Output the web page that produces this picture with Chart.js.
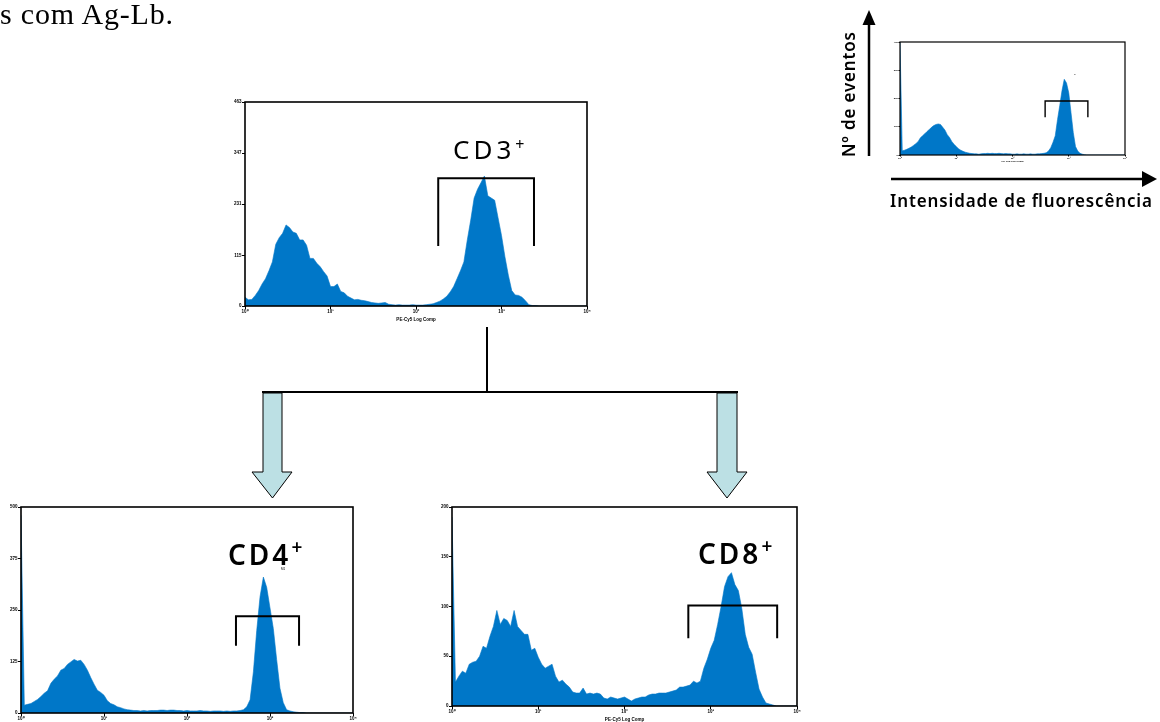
<!DOCTYPE html>
<html>
<head>
<meta charset="utf-8">
<script src="https://cdn.jsdelivr.net/npm/chart.js@4.4.1/dist/chart.umd.min.js"></script>
<style>
  html, body { margin: 0; padding: 0; background: #fff; }
  body { position: relative; width: 1160px; height: 722px; overflow: hidden; }
  canvas { position: absolute; }
  svg { position: absolute; left: 0; top: 0; pointer-events: none; }
</style>
</head>
<body>
<canvas id="cd3" width="368" height="226" style="left:225px;top:96px"></canvas>
<canvas id="key" width="243" height="125" style="left:886px;top:38px"></canvas>
<canvas id="cd4" width="358" height="228" style="left:1px;top:501px"></canvas>
<canvas id="cd8" width="371" height="221" style="left:432px;top:501px"></canvas>

<svg width="1160" height="722" viewBox="0 0 1160 722">
  <text x="0" y="24" font-family="Liberation Serif" font-size="30" textLength="173" lengthAdjust="spacing" fill="#000">s com Ag-Lb.</text>

  <!-- gate labels -->
  <text x="453" y="159" font-family="Noto Sans" font-size="26" letter-spacing="4" fill="#000">CD3<tspan font-size="16" dy="-9">+</tspan></text>
  <text x="228" y="565" font-family="Noto Sans" font-weight="600" font-size="28" letter-spacing="3" fill="#000">CD4<tspan font-size="19" dy="-11">+</tspan></text>
  <text x="698" y="564" font-family="Noto Sans" font-weight="600" font-size="28" letter-spacing="3" fill="#000">CD8<tspan font-size="19" dy="-11">+</tspan></text>
  <text x="281" y="570" font-family="Liberation Sans" font-size="3" fill="#000">M1</text>
  <text x="1074" y="76" font-family="Liberation Sans" font-size="5" fill="#000">-</text>

  <!-- tree connector -->
  <line x1="487" y1="327" x2="487" y2="393" stroke="#000" stroke-width="2"/>
  <line x1="262" y1="392" x2="738" y2="392" stroke="#000" stroke-width="2"/>
  <polygon points="263,393 282,393 282,472 292,472 272.5,498 252,472 263,472" fill="#BCE0E4" stroke="#000" stroke-width="1"/>
  <polygon points="717,393 737,393 737,472 747,472 727,498 707,472 717,472" fill="#BCE0E4" stroke="#000" stroke-width="1"/>

  <!-- key axes -->
  <line x1="869" y1="156" x2="869" y2="22" stroke="#000" stroke-width="2.5"/>
  <polygon points="869,10 862.5,25 875.5,25" fill="#000"/>
  <line x1="891" y1="179" x2="1144" y2="179" stroke="#000" stroke-width="2.5"/>
  <polygon points="1157,179 1142,171 1142,187" fill="#000"/>
  <text x="855" y="157" transform="rotate(-90 855 157)" font-family="Noto Sans" font-weight="600" font-size="17" textLength="125" lengthAdjust="spacing" fill="#000">Nº de eventos</text>
  <text x="890" y="207" font-family="Noto Sans" font-weight="600" font-size="17" textLength="262" lengthAdjust="spacing" fill="#000">Intensidade de fluorescência</text>
</svg>

<script>
// channels are spaced 0.04 decade apart, from 10^0 to 10^4
const channelStep = 0.04;
const xTickLabels = ['10⁰', '10¹', '10²', '10³', '10⁴'];
const xTitle = 'PE-Cy5 Log Comp';

// counts per channel
const cd3Counts = [
  20, 14, 15, 24, 35, 50, 62, 80, 100, 140,
  155, 165, 184, 178, 168, 165, 150, 150, 138, 108,
  108, 97, 89, 78, 68, 44, 44, 50, 33, 30,
  22, 18, 14, 15, 13, 12, 10, 8, 7, 6,
  7, 8, 4, 3, 2, 3, 2, 2, 2, 3,
  2, 2, 2, 3, 4, 5, 8, 11, 16, 22,
  32, 44, 62, 80, 100, 150, 195, 245, 265, 280,
  295, 250, 245, 240, 200, 160, 112, 70, 35, 25,
  24, 20, 12, 3, 1, 1, 0, 0, 0, 0,
  0, 0, 0, 0, 0, 0, 0, 0, 0, 0,
  0
];
const keyCounts = [
  400, 15, 17, 20, 24, 28, 34, 40, 47, 60,
  68, 75, 83, 90, 98, 104, 108, 110, 108, 98,
  88, 72, 62, 48, 38, 30, 22, 17, 13, 10,
  8, 6, 5, 4, 4, 3, 4, 5, 5, 6,
  5, 6, 5, 5, 6, 5, 4, 5, 4, 4,
  3, 3, 4, 3, 3, 4, 3, 3, 4, 3,
  3, 4, 4, 5, 6, 8, 14, 26, 45, 68,
  125, 175, 228, 268, 255, 220, 150, 80, 30, 14,
  6, 3, 1, 0, 0, 0, 0, 0, 0, 0,
  0, 0, 0, 0, 0, 0, 0, 0, 0, 0,
  0
];
const cd4Counts = [
  480, 19, 21, 23, 28, 33, 40, 48, 54, 72,
  82, 90, 104, 108, 118, 124, 130, 126, 128, 118,
  104, 86, 70, 55, 50, 43, 30, 23, 20, 15,
  13, 10, 8, 7, 6, 6, 5, 6, 5, 6,
  6, 6, 7, 7, 6, 7, 7, 6, 6, 5,
  6, 5, 5, 5, 6, 5, 5, 4, 5, 5,
  5, 4, 5, 4, 5, 5, 6, 8, 15, 32,
  100, 200, 282, 330, 305, 255, 205, 130, 60, 25,
  8, 5, 3, 2, 1, 1, 0, 0, 0, 0,
  0, 0, 0, 0, 0, 0, 0, 0, 0, 0,
  0
];
const cd8Counts = [
  190, 24, 30, 35, 33, 42, 44, 45, 50, 60,
  58, 70, 80, 96, 82, 88, 86, 80, 96, 80,
  76, 72, 72, 56, 58, 49, 42, 38, 40, 42,
  30, 24, 26, 22, 19, 14, 13, 13, 18, 12,
  13, 12, 13, 12, 8, 7, 9, 8, 7, 8,
  9, 7, 5, 7, 8, 9, 9, 11, 12, 12,
  13, 13, 13, 14, 15, 16, 19, 19, 20, 21,
  25, 23, 25, 38, 47, 58, 66, 82, 100, 120,
  130, 134, 122, 116, 98, 72, 59, 52, 34, 17,
  9, 3, 2, 1, 0, 0, 0, 0, 0, 0,
  0
];

const cd3YTicks = [0, 115, 231, 347, 463];
const keyYTicks = [0, 100, 200, 300, 400];
const cd4YTicks = [0, 125, 250, 375, 500];
const cd8YTicks = [0, 50, 100, 150, 200];

// gate limits, in decades
const cd3Gate = [2.26, 3.38];
const keyGate = [2.58, 3.34];
const cd4Gate = [2.59, 3.35];
const cd8Gate = [2.74, 3.77];

const BLUE = '#0077C8';

// box around the plot area + the gate bracket
const frameGate = {
  id: 'frameGate',
  afterDatasetsDraw(chart, args, opts) {
    const { ctx, chartArea: a, scales: { x, y } } = chart;
    ctx.save();
    ctx.strokeStyle = '#000';
    ctx.lineWidth = opts.frameWidth;
    ctx.strokeRect(a.left, a.top, a.right - a.left, a.bottom - a.top);
    const x0 = x.getPixelForValue(opts.gate[0]);
    const x1 = x.getPixelForValue(opts.gate[1]);
    const yTop = y.getPixelForValue(opts.top);
    const yLow = y.getPixelForValue(opts.low);
    ctx.lineWidth = opts.gateWidth;
    ctx.beginPath();
    ctx.moveTo(x0, yLow);
    ctx.lineTo(x0, yTop);
    ctx.lineTo(x1, yTop);
    ctx.lineTo(x1, yLow);
    ctx.stroke();
    ctx.restore();
  }
};

function histogram(id, counts, yTicks, gate, look) {
  const points = counts.map((c, i) => ({ x: i * channelStep, y: c }));
  const tickFont = { family: 'Liberation Sans', size: look.font, weight: 'bold' };
  return new Chart(document.getElementById(id), {
    type: 'line',
    data: {
      datasets: [{
        data: points,
        borderColor: BLUE,
        backgroundColor: BLUE,
        borderWidth: 0.6,
        fill: 'origin',
        pointRadius: 0,
        tension: 0
      }]
    },
    options: {
      responsive: false,
      animation: false,
      devicePixelRatio: 1,
      layout: { padding: { top: look.padTop, right: look.padRight, left: 0, bottom: 0 } },
      plugins: {
        legend: { display: false },
        tooltip: { enabled: false },
        frameGate: {
          gate: gate,
          top: look.gateTop,
          low: look.gateLow,
          gateWidth: look.gateWidth,
          frameWidth: look.frameWidth
        }
      },
      scales: {
        x: {
          type: 'linear',
          min: 0,
          max: 4,
          afterBuildTicks: (s) => { s.ticks = xTickLabels.map((_, i) => ({ value: i })); },
          afterFit: (s) => { s.height = look.xAxisH; },
          ticks: {
            callback: (v, i) => xTickLabels[i],
            font: tickFont,
            color: '#000',
            padding: 0,
            maxRotation: 0,
            autoSkip: false
          },
          grid: { drawOnChartArea: false, color: '#000', tickLength: look.tick, lineWidth: 1 },
          border: { display: false },
          title: { display: true, text: xTitle, font: tickFont, color: '#000', padding: 0 }
        },
        y: {
          min: 0,
          max: yTicks[yTicks.length - 1],
          afterBuildTicks: (s) => { s.ticks = yTicks.map((v) => ({ value: v })); },
          afterFit: (s) => { s.width = look.yAxisW; },
          ticks: { font: tickFont, color: '#000', padding: 0.5 },
          grid: { drawOnChartArea: false, color: '#000', tickLength: look.tick, lineWidth: 1 },
          border: { display: false }
        }
      }
    },
    plugins: [frameGate]
  });
}

const bigLook = { font: 4.5, tick: 3, padTop: 6, padRight: 6, xAxisH: 16, yAxisW: 20, gateWidth: 2, frameWidth: 1.6 };

histogram('cd3', cd3Counts, cd3YTicks, cd3Gate, { ...bigLook, gateTop: 290, gateLow: 136 });
histogram('cd4', cd4Counts, cd4YTicks, cd4Gate, { ...bigLook, gateTop: 235, gateLow: 163 });
histogram('cd8', cd8Counts, cd8YTicks, cd8Gate, { ...bigLook, gateTop: 101, gateLow: 68 });
histogram('key', keyCounts, keyYTicks, keyGate, {
  font: 2.5, tick: 1.5, padTop: 4, padRight: 4, xAxisH: 8, yAxisW: 14,
  gateWidth: 1.4, frameWidth: 1.2, gateTop: 191, gateLow: 134
});
</script>
</body>
</html>
